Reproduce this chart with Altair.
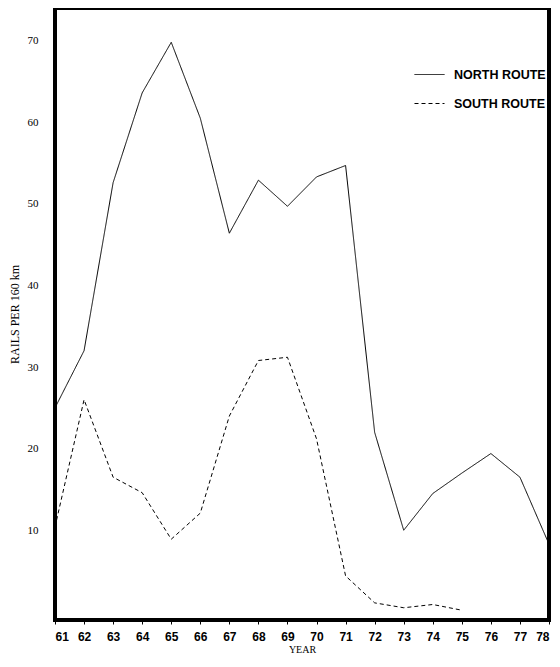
import altair as alt
import pandas as pd

years_north = [61, 62, 63, 64, 65, 66, 67, 68, 69, 70, 71, 72, 73, 74, 75, 76, 77, 78]
north = [25, 32, 52.6, 63.6, 69.8, 60.5, 46.4, 52.9, 49.7, 53.3, 54.7, 22, 10, 14.5, 17, 19.4, 16.5, 8.3]

years_south = [61, 62, 63, 64, 65, 66, 67, 68, 69, 70, 71, 72, 73, 74, 75]
south = [10.4, 26, 16.5, 14.6, 8.9, 12.1, 24, 30.8, 31.2, 21.2, 4.4, 1.1, 0.5, 0.9, 0.2]

series_names = ["NORTH ROUTE", "SOUTH ROUTE"]
x_ticks = list(range(61, 79))
y_ticks = [10, 20, 30, 40, 50, 60, 70]

df = pd.concat([
    pd.DataFrame({"year": years_north, "value": north, "route": series_names[0]}),
    pd.DataFrame({"year": years_south, "value": south, "route": series_names[1]}),
])

chart = alt.Chart(df).mark_line(color="black", strokeWidth=1).encode(
    x=alt.X("year:Q",
            scale=alt.Scale(domain=[61, 78], nice=False, zero=False),
            axis=alt.Axis(values=x_ticks, format="d", title="YEAR",
                          labelFont="Liberation Sans", labelFontWeight="bold",
                          labelFontSize=12, labelColor="black",
                          tickSize=4, tickColor="black", tickWidth=1,
                          labelPadding=7, domain=False, grid=False,
                          titleFont="Liberation Serif", titleFontSize=10,
                          titleFontWeight="normal", titleColor="black",
                          titlePadding=2)),
    y=alt.Y("value:Q",
            scale=alt.Scale(domain=[-1.0, 74.0], nice=False, zero=False),
            axis=alt.Axis(values=y_ticks, title="RAILS PER 160 km",
                          labelFont="Liberation Serif", labelFontSize=11,
                          labelColor="black", tickSize=0, labelPadding=17,
                          domain=False, grid=False,
                          titleFont="Liberation Serif", titleFontSize=12,
                          titleFontWeight="normal", titleColor="black",
                          titlePadding=6)),
    strokeDash=alt.StrokeDash("route:N",
                              scale=alt.Scale(domain=series_names, range=[[1, 0], [4, 3]]),
                              legend=alt.Legend(orient="none", legendX=359, legendY=51,
                                                title=None, symbolType="stroke",
                                                symbolSize=900, symbolStrokeWidth=1,
                                                symbolStrokeColor="black",
                                                labelFont="Liberation Sans",
                                                labelFontWeight="bold", labelFontSize=12.5,
                                                labelColor="black", labelOffset=9,
                                                rowPadding=7, padding=0)),
).properties(
    width=494, height=612,
    autosize=alt.AutoSizeParams(type="none"),
    padding={"left": 47, "top": 0, "right": 3, "bottom": 36},
).configure_view(
    stroke="black", strokeWidth=4
)

chart.save("out.html", embed_options={"renderer": "svg", "actions": False})
